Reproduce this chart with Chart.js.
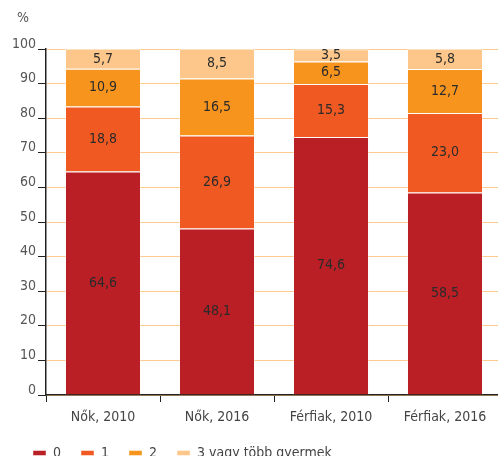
<!DOCTYPE html>
<html>
<head>
<meta charset="utf-8">
<script src="https://cdn.jsdelivr.net/npm/chart.js@4/dist/chart.umd.min.js"></script>
<style>
  html, body { margin: 0; padding: 0; background: #fff; overflow: hidden; width: 498px; height: 456px; }
  #wrap { position: absolute; left: 0; top: 0; width: 502px; height: 470px; }
</style>
</head>
<body>
<div id="wrap"><canvas id="chart"></canvas></div>
<script>
// categories and series (percent)
const categories = ['Nők, 2010', 'Nők, 2016', 'Férfiak, 2010', 'Férfiak, 2016'];
const seriesNames = ['0', '1', '2', '3 vagy több gyermek'];
const kids0 = [64.6, 48.1, 74.6, 58.5];
const kids1 = [18.8, 26.9, 15.3, 23.0];
const kids2 = [10.9, 16.5, 6.5, 12.7];
const kids3 = [5.7, 8.5, 3.5, 5.8];
const yTicks = [0, 10, 20, 30, 40, 50, 60, 70, 80, 90, 100];

const colors = ['#b91f24', '#f05a22', '#f7941d', '#fdc68a'];
const FONT = '"Liberation Sans Narrow", "DejaVu Sans Condensed", "Roboto", sans-serif';

// writes the value in the middle of each segment
const segmentLabels = {
    id: 'segmentLabels',
    afterDatasetsDraw(chart) {
        const ctx = chart.ctx;
        ctx.save();
        ctx.font = '14px ' + FONT;
        ctx.fillStyle = '#2b2b2b';
        ctx.textAlign = 'center';
        ctx.textBaseline = 'middle';
        chart.data.datasets.forEach((ds, i) => {
            chart.getDatasetMeta(i).data.forEach((bar, j) => {
                const txt = ds.data[j].toFixed(1).replace('.', ',');
                ctx.fillText(txt, bar.x, (bar.y + bar.base) / 2);
            });
        });
        // unit label above the y axis
        ctx.fillStyle = '#555';
        ctx.textAlign = 'left';
        ctx.fillText('%', 17, 18);
        ctx.restore();
    }
};

new Chart(document.getElementById('chart'), {
    type: 'bar',
    data: {
        labels: categories,
        datasets: [kids0, kids1, kids2, kids3].map((d, i) => ({
            label: seriesNames[i],
            data: d,
            backgroundColor: colors[i],
            borderColor: 'rgba(255,255,255,0.45)',
            borderWidth: 1,
            categoryPercentage: 1,
            barPercentage: 0.667
        }))
    },
    options: {
        responsive: true,
        maintainAspectRatio: false,
        animation: false,
        layout: { padding: { top: 49, left: 13, right: 0, bottom: 0 } },
        plugins: {
            tooltip: { enabled: false },
            legend: {
                position: 'bottom',
                align: 'start',
                labels: {
                    boxWidth: 13,
                    boxHeight: 5,
                    padding: 20,
                    color: '#444',
                    font: { family: FONT, size: 14 }
                }
            }
        },
        scales: {
            x: {
                stacked: true,
                afterFit: s => { s.height = 31; },
                border: { color: '#222', width: 1.5 },
                grid: { drawOnChartArea: false, tickLength: 7, tickColor: '#222', offset: true },
                ticks: { color: '#444', padding: 7, font: { family: FONT, size: 14 } }
            },
            y: {
                stacked: true,
                min: 0,
                max: 100,
                afterFit: s => { s.width = 33; },
                afterBuildTicks: s => { s.ticks = yTicks.map(v => ({ value: v })); },
                border: { color: '#222', width: 1.5 },
                grid: { color: '#fdc98f', lineWidth: 1, tickLength: 8, tickColor: '#222' },
                ticks: { color: '#555', padding: 2, labelOffset: -5, font: { family: FONT, size: 14 } }
            }
        }
    },
    plugins: [segmentLabels]
});
</script>
</body>
</html>
